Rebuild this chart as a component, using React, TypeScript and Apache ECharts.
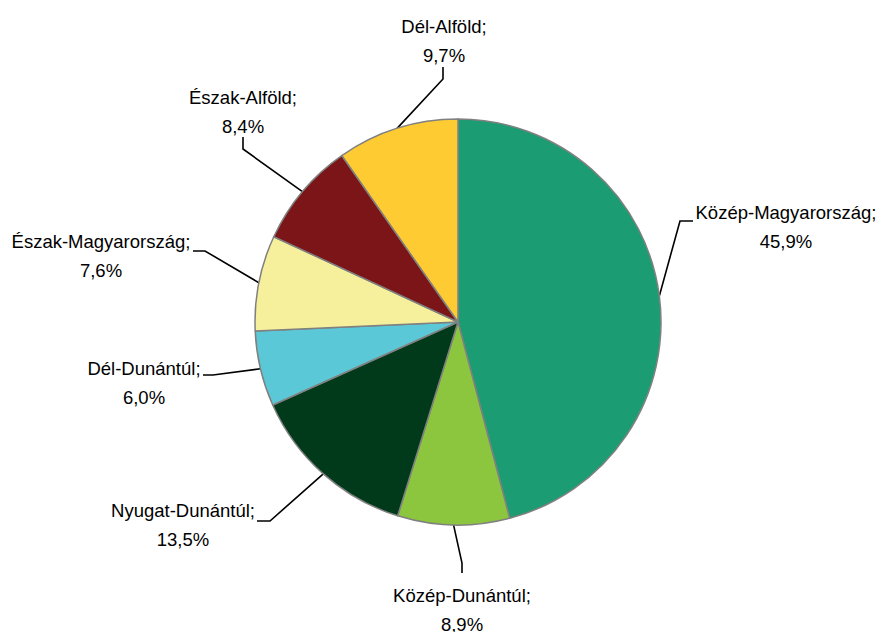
import React, { useEffect, useRef } from "react";
import * as echarts from "echarts";

const categories = [
  "Közép-Magyarország",
  "Közép-Dunántúl",
  "Nyugat-Dunántúl",
  "Dél-Dunántúl",
  "Észak-Magyarország",
  "Észak-Alföld",
  "Dél-Alföld",
];
const shares = [45.9, 8.9, 13.5, 6.0, 7.6, 8.4, 9.7];
const colors = ["#1b9c72", "#8cc63f", "#003a1a", "#5bc8d7", "#f6f09c", "#7b1517", "#ffcb33"];

// layout of label blocks (text centre) and leader-line elbows/ends
const labelCentre: [number, number][] = [
  [786, 227],
  [462, 610],
  [183, 525],
  [144, 383],
  [101, 256],
  [243, 112],
  [444, 41],
];
const elbow: [number, number][] = [
  [680, 221],
  [462, 563],
  [270, 521],
  [213, 375],
  [205, 251],
  [243, 149],
  [443, 79],
];
const lineEnd: [number, number][] = [
  [693, 221],
  [462, 573],
  [257, 521],
  [203, 375],
  [193, 251],
  [243, 137],
  [443, 67],
];

const CX = 458;
const CY = 322;
const R = 203;

export default function App() {
  const ref = useRef<HTMLDivElement>(null);
  useEffect(() => {
    document.body.style.margin = "0";
    const chart = echarts.init(ref.current!, null, { renderer: "svg" });
    const total = shares.reduce((a, b) => a + b, 0);
    let acc = 0;
    const starts: [number, number][] = shares.map((v) => {
      const mid = ((acc + v / 2) / total) * Math.PI * 2;
      acc += v;
      return [CX + R * Math.sin(mid), CY - R * Math.cos(mid)];
    });
    chart.setOption({
      animation: false,
      backgroundColor: "#ffffff",
      series: [
        {
          type: "pie",
          center: [CX, CY],
          radius: R,
          startAngle: 90,
          clockwise: true,
          avoidLabelOverlap: false,
          data: categories.map((name, i) => ({
            name,
            value: shares[i],
            itemStyle: { color: colors[i] },
          })),
          itemStyle: { borderColor: "#808080", borderWidth: 1.5 },
          emphasis: { disabled: true },
          label: {
            show: true,
            position: "outside",
            color: "#000000",
            fontFamily: "'Liberation Sans', Arial, sans-serif",
            fontSize: 18.5,
            lineHeight: 29,
            align: "center",
            formatter: (p: any) =>
              p.name + ";\n" + Number(p.value).toFixed(1).replace(".", ",") + "%",
          },
          labelLine: {
            show: true,
            smooth: false,
            lineStyle: { color: "#000000", width: 1.6 },
          },
          labelLayout: (p: any) => {
            const i = p.dataIndex;
            const s = starts[i];
            return {
              x: labelCentre[i][0],
              y: labelCentre[i][1],
              align: "center",
              verticalAlign: "middle",
              labelLinePoints: [s, elbow[i], lineEnd[i]],
            };
          },
        },
      ],
    });
    return () => chart.dispose();
  }, []);
  return <div ref={ref} style={{ width: 877, height: 632 }} />;
}
